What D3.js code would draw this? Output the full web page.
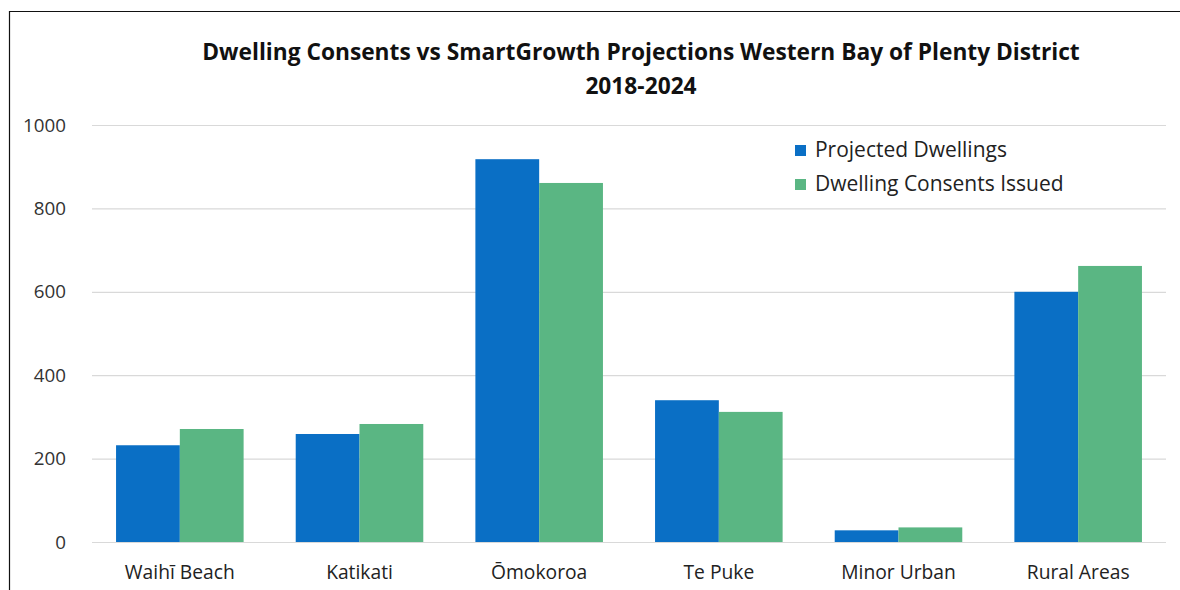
<!DOCTYPE html>
<html><head><meta charset="utf-8">
<script src="https://cdn.jsdelivr.net/npm/d3@7"></script>
<style>html,body{margin:0;padding:0;background:#fff;}</style>
</head><body>
<svg id="c" width="1180" height="590"></svg>
<script>
const categories = ["Waihī Beach","Katikati","Ōmokoroa","Te Puke","Minor Urban","Rural Areas"];
const seriesNames = ["Projected Dwellings","Dwelling Consents Issued"];
const projected = [232, 259, 918, 340, 28, 600];
const consents = [271, 283, 861, 312, 35, 662];
const yTicks = [0,200,400,600,800,1000];
const titleLines = ["Dwelling Consents vs SmartGrowth Projections Western Bay of Plenty District","2018-2024"];
const colors = ["#0a6fc5","#5ab683"];

const svg = d3.select("#c");
const font = "'Open Sans', sans-serif";

// size a selection so its first element reaches a target width
function fit(sel, target){
  const n = sel.node();
  const fs = parseFloat(n.style.fontSize);
  const w = n.getComputedTextLength();
  sel.style("font-size", (fs*target/w).toFixed(2)+"px");
}

// frame
svg.append("line").attr("x1",9).attr("x2",1180).attr("y1",11.5).attr("y2",11.5).attr("stroke","#111").attr("stroke-width",1.2);
svg.append("line").attr("x1",9.5).attr("x2",9.5).attr("y1",11).attr("y2",590).attr("stroke","#111").attr("stroke-width",1.2);

const x0 = d3.scaleBand().domain(categories).range([90,1168]).paddingInner(0.29).paddingOuter(0.145);
const x1 = d3.scaleBand().domain(seriesNames).range([0,x0.bandwidth()]);
const y = d3.scaleLinear().domain([0,1000]).range([542,125]);

// grid
const yAxis = d3.axisLeft(y).tickValues(yTicks).tickSize(-(1166-92)).tickFormat(d3.format("d"));
const gy = svg.append("g").attr("transform","translate(92,0)").call(yAxis);
gy.select(".domain").remove();
gy.selectAll(".tick line").attr("stroke","#d9d9d9").attr("stroke-width",1.2);
const yt = gy.selectAll(".tick text").attr("x",-26).attr("fill","#333").style("font-family",font).style("font-size","17px");
fit(gy.selectAll(".tick text").filter(d=>d===1000), 43);
yt.style("font-size", gy.selectAll(".tick text").filter(d=>d===1000).style("font-size"));

const data = categories.map((c,i)=>({cat:c, vals:[projected[i],consents[i]]}));
const g = svg.append("g");
g.selectAll("g.grp").data(data).join("g").attr("class","grp")
  .attr("transform",d=>`translate(${x0(d.cat)},0)`)
  .selectAll("rect").data(d=>d.vals.map((v,j)=>({s:seriesNames[j],v,j})))
  .join("rect")
  .attr("x",d=>x1(d.s)).attr("width",x1.bandwidth())
  .attr("y",d=>y(d.v)).attr("height",d=>y(0)-y(d.v))
  .attr("fill",d=>colors[d.j]);

// x axis labels
const xAxis = d3.axisBottom(x0).tickSize(0);
const gx = svg.append("g").attr("transform","translate(0,542)").call(xAxis);
gx.select(".domain").remove();
const xt = gx.selectAll(".tick text").attr("y",23).attr("fill","#222").style("font-family",font).style("font-size","16px");
const first = gx.selectAll(".tick text").filter((d,i)=>i===0);
fit(first, 110);
xt.style("font-size", first.style("font-size"));

// title
const t1 = svg.append("text").attr("x",641).attr("y",60).attr("text-anchor","middle")
  .style("font-family",font).style("font-weight","700").style("font-size","20px").attr("fill","#111")
  .text(titleLines[0]);
fit(t1, 878);
svg.append("text").attr("x",641).attr("y",94).attr("text-anchor","middle")
  .style("font-family",font).style("font-weight","700").style("font-size",t1.style("font-size")).attr("fill","#111")
  .text(titleLines[1]);

// legend
const lg = svg.append("g");
const lt = [];
seriesNames.forEach((s,i)=>{
  const yy = 151 + i*34;
  lg.append("rect").attr("x",795).attr("y",yy-6).attr("width",11).attr("height",11).attr("fill",colors[i]);
  lt.push(lg.append("text").attr("x",815).attr("y",yy+6).style("font-family",font).style("font-size","18px").attr("fill","#222").text(s));
});
fit(lt[0], 192);
lt[1].style("font-size", lt[0].style("font-size"));
</script>
</body></html>
